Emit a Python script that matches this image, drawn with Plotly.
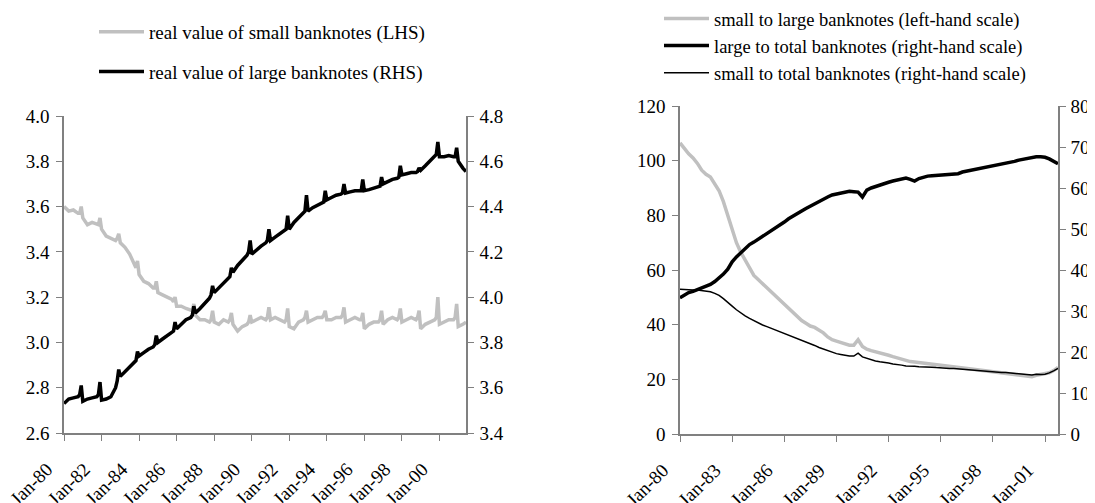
import plotly.graph_objects as go

FONT = "'Liberation Serif', 'Times New Roman', serif"
GREY = "#c0c0c0"
AXIS = "#808080"

# ---------------- Left panel data (sampled months each year) ----------------
left_years = list(range(1980, 2001))
left_months = [1, 4, 7, 10, 11, 12]
left_last_months = [1, 4, 6]  # 2001
left_dates = [f"{y}-{m:02d}-01" for y in left_years for m in left_months] + \
             [f"2001-{m:02d}-01" for m in left_last_months]

# real value of small banknotes (LHS)
small_real_lhs = [
    3.60, 3.58, 3.585, 3.57, 3.57, 3.60,   # 1980
    3.55, 3.52, 3.53, 3.52, 3.52, 3.55,    # 1981
    3.50, 3.47, 3.46, 3.45, 3.46, 3.48,    # 1982
    3.44, 3.42, 3.39, 3.34, 3.33, 3.36,    # 1983
    3.30, 3.27, 3.26, 3.24, 3.24, 3.27,    # 1984
    3.22, 3.21, 3.20, 3.19, 3.18, 3.20,    # 1985
    3.16, 3.16, 3.15, 3.14, 3.14, 3.17,    # 1986
    3.12, 3.10, 3.10, 3.09, 3.10, 3.14,    # 1987
    3.09, 3.08, 3.10, 3.09, 3.10, 3.13,    # 1988
    3.08, 3.05, 3.07, 3.08, 3.09, 3.12,    # 1989
    3.09, 3.10, 3.11, 3.10, 3.11, 3.155,   # 1990
    3.10, 3.11, 3.10, 3.09, 3.10, 3.15,    # 1991
    3.07, 3.06, 3.09, 3.10, 3.11, 3.14,    # 1992
    3.09, 3.10, 3.11, 3.11, 3.12, 3.14,    # 1993
    3.10, 3.10, 3.11, 3.11, 3.12, 3.155,   # 1994
    3.09, 3.10, 3.11, 3.10, 3.10, 3.13,    # 1995
    3.06, 3.08, 3.09, 3.09, 3.10, 3.14,    # 1996
    3.08, 3.10, 3.11, 3.10, 3.11, 3.15,    # 1997
    3.09, 3.10, 3.11, 3.10, 3.11, 3.14,    # 1998
    3.06, 3.08, 3.09, 3.10, 3.11, 3.20,    # 1999
    3.08, 3.09, 3.10, 3.10, 3.11, 3.17,    # 2000
    3.07, 3.08, 3.09,                      # 2001
]

# real value of large banknotes (RHS)
large_real_rhs = [
    3.53, 3.55, 3.555, 3.56, 3.57, 3.61,   # 1980
    3.54, 3.55, 3.555, 3.56, 3.57, 3.625,  # 1981
    3.545, 3.55, 3.56, 3.60, 3.63, 3.68,   # 1982
    3.65, 3.67, 3.69, 3.71, 3.72, 3.76,    # 1983
    3.74, 3.755, 3.77, 3.78, 3.79, 3.83,   # 1984
    3.80, 3.815, 3.83, 3.845, 3.85, 3.89,  # 1985
    3.86, 3.88, 3.90, 3.91, 3.92, 3.96,    # 1986
    3.93, 3.95, 3.97, 3.995, 4.01, 4.05,   # 1987
    4.02, 4.04, 4.06, 4.08, 4.09, 4.13,    # 1988
    4.11, 4.14, 4.16, 4.185, 4.20, 4.25,   # 1989
    4.19, 4.21, 4.225, 4.24, 4.25, 4.30,   # 1990
    4.25, 4.265, 4.28, 4.295, 4.30, 4.36,  # 1991
    4.30, 4.33, 4.35, 4.37, 4.38, 4.45,    # 1992
    4.38, 4.395, 4.405, 4.415, 4.42, 4.47, # 1993
    4.43, 4.44, 4.45, 4.455, 4.46, 4.50,   # 1994
    4.46, 4.465, 4.47, 4.47, 4.47, 4.52,   # 1995
    4.47, 4.475, 4.48, 4.485, 4.49, 4.53,  # 1996
    4.50, 4.51, 4.52, 4.525, 4.53, 4.58,   # 1997
    4.54, 4.545, 4.55, 4.55, 4.555, 4.57,  # 1998
    4.56, 4.58, 4.60, 4.62, 4.63, 4.685,   # 1999
    4.62, 4.62, 4.625, 4.62, 4.62, 4.66,   # 2000
    4.60, 4.57, 4.555,                     # 2001
]

# ---------------- Right panel data (quarterly) ----------------
right_dates = [f"{y}-{m:02d}-01" for y in range(1980, 2002) for m in (1, 4, 7, 10)]

# small to large banknotes (left-hand scale)
small_to_large = [
    106.5, 104.5, 102.5, 101.0,  # 1980
    99.0, 96.5, 95.0, 94.0,      # 1981
    91.5, 89.0, 85.0, 80.0,      # 1982
    74.0, 70.0, 66.5, 63.5,      # 1983
    60.5, 58.0, 56.5, 55.0,      # 1984
    53.5, 52.0, 50.5, 49.0,      # 1985
    47.5, 46.0, 44.5, 43.0,      # 1986
    41.5, 40.5, 39.5, 39.0,      # 1987
    38.0, 37.0, 35.5, 34.5,      # 1988
    34.0, 33.5, 33.0, 32.5,      # 1989
    32.5, 34.5, 32.0, 31.0,      # 1990
    30.5, 30.0, 29.5, 29.0,      # 1991
    28.8, 28.3, 27.8, 27.3,      # 1992
    26.8, 26.5, 26.3, 26.1,      # 1993
    26.0, 25.9, 25.8, 25.6,      # 1994
    25.4, 25.2, 25.0, 24.8,      # 1995
    24.6, 24.4, 24.2, 24.0,      # 1996
    23.8, 23.6, 23.4, 23.2,      # 1997
    23.0, 22.8, 22.6, 22.4,      # 1998
    22.2, 22.0, 21.8, 21.5,      # 1999
    21.2, 21.0, 21.5, 21.8,      # 2000
    22.0, 22.4, 23.2, 24.4,      # 2001
]

# large to total banknotes (right-hand scale)
large_to_total = [
    33.2, 33.8, 34.5, 34.8,  # 1980
    35.2, 35.6, 36.0, 36.5,  # 1981
    37.2, 38.0, 39.0, 40.2,  # 1982
    42.0, 43.2, 44.2, 45.2,  # 1983
    46.2, 46.8, 47.5, 48.2,  # 1984
    48.7, 49.5, 50.3, 51.0,  # 1985
    51.7, 52.5, 53.2, 53.8,  # 1986
    54.4, 55.0, 55.6, 56.0,  # 1987
    56.6, 57.2, 57.8, 58.3,  # 1988
    58.5, 58.8, 59.0, 59.2,  # 1989
    59.1, 59.0, 57.8, 59.5,  # 1990
    60.0, 60.4, 60.7, 61.0,  # 1991
    61.4, 61.7, 62.0, 62.3,  # 1992
    62.4, 62.1, 61.7, 62.3,  # 1993
    62.7, 62.9, 63.0, 63.1,  # 1994
    63.2, 63.2, 63.3, 63.3,  # 1995
    63.5, 63.9, 64.1, 64.3,  # 1996
    64.5, 64.8, 65.0, 65.2,  # 1997
    65.4, 65.6, 65.8, 66.1,  # 1998
    66.3, 66.5, 66.8, 67.0,  # 1999
    67.2, 67.5, 67.6, 67.6,  # 2000
    67.5, 67.1, 66.6, 65.9,  # 2001
]

# small to total banknotes (right-hand scale)
small_to_total = [
    35.3, 35.2, 35.2, 35.1,  # 1980
    35.1, 35.0, 34.9, 34.7,  # 1981
    34.3, 33.8, 33.0, 32.2,  # 1982
    31.2, 30.3, 29.5, 28.8,  # 1983
    28.2, 27.6, 27.1, 26.6,  # 1984
    26.2, 25.8, 25.3, 24.9,  # 1985
    24.5, 24.1, 23.7, 23.3,  # 1986
    22.9, 22.4, 22.0, 21.6,  # 1987
    21.1, 20.7, 20.3, 20.0,  # 1988
    19.6, 19.4, 19.2, 19.0,  # 1989
    19.0, 19.7, 18.8, 18.4,  # 1990
    18.0, 17.8, 17.6, 17.5,  # 1991
    17.3, 17.1, 17.0, 16.8,  # 1992
    16.6, 16.6, 16.5, 16.4,  # 1993
    16.4, 16.3, 16.3, 16.2,  # 1994
    16.1, 16.1, 16.0, 16.0,  # 1995
    15.9, 15.8, 15.7, 15.6,  # 1996
    15.5, 15.5, 15.4, 15.3,  # 1997
    15.2, 15.1, 15.0, 15.0,  # 1998
    14.9, 14.8, 14.7, 14.6,  # 1999
    14.5, 14.4, 14.6, 14.5,  # 2000
    14.6, 14.9, 15.4, 16.0,  # 2001
]

# The page body adds an 8px offset; the figure fills the rest of the window.
OFF = 8
W, H = 1095 - OFF, 503 - OFF

def px(v):
    return (v - OFF) / W

def py(v):
    return 1 - (v - OFF) / H

fig = go.Figure()

fig.add_trace(go.Scatter(x=left_dates, y=small_real_lhs, mode="lines",
                         name="real value of small banknotes (LHS)",
                         line=dict(color=GREY, width=3.5),
                         xaxis="x", yaxis="y", legend="legend", legendgroup="a"))
fig.add_trace(go.Scatter(x=left_dates, y=large_real_rhs, mode="lines",
                         name="real value of large banknotes (RHS)",
                         line=dict(color="black", width=3.5),
                         xaxis="x", yaxis="y2", legend="legend", legendgroup="b"))

fig.add_trace(go.Scatter(x=right_dates, y=small_to_large, mode="lines",
                         name="small to large banknotes (left-hand scale)",
                         line=dict(color=GREY, width=3.5),
                         xaxis="x2", yaxis="y3", legend="legend2"))
fig.add_trace(go.Scatter(x=right_dates, y=large_to_total, mode="lines",
                         name="large to total banknotes (right-hand scale)",
                         line=dict(color="black", width=3.5),
                         xaxis="x2", yaxis="y4", legend="legend2"))
fig.add_trace(go.Scatter(x=right_dates, y=small_to_total, mode="lines",
                         name="small to total banknotes (right-hand scale)",
                         line=dict(color="black", width=1.5),
                         xaxis="x2", yaxis="y4", legend="legend2"))

tickfont = dict(family=FONT, size=19, color="black")

common_x = dict(type="date", tickformat="%b-%y", tickangle=-45, showgrid=False,
                zeroline=False, showline=True, linecolor=AXIS, linewidth=1.5,
                ticks="outside", ticklen=6, tickcolor=AXIS, tickwidth=1.2,
                tickfont=tickfont, tick0="1980-01-01", automargin=False,
                ticklabelstandoff=10, ticklabelshift=-17,
                ticklabeloverflow="allow")
common_y = dict(showgrid=False, zeroline=False, showline=True, linecolor=AXIS,
                linewidth=1.5, ticks="outside", ticklen=6, tickcolor=AXIS,
                tickwidth=1.2, tickfont=tickfont, automargin=False)

fig.update_layout(
    width=W, height=H,
    margin=dict(l=0, r=0, t=0, b=0, autoexpand=False),
    paper_bgcolor="white", plot_bgcolor="rgba(0,0,0,0)",
    font=dict(family=FONT, size=19, color="black"),
    xaxis=dict(domain=[px(64), px(466)], anchor="y", dtick="M24",
               range=["1980-01-01", "2001-06-01"], **common_x),
    yaxis=dict(domain=[py(433), py(116)], anchor="x", range=[2.6, 4.0],
               dtick=0.2, tickformat=".1f", ticklabelstandoff=3, **common_y),
    yaxis2=dict(overlaying="y", side="right", anchor="x", range=[3.4, 4.8],
                dtick=0.2, tickformat=".1f", ticklabelstandoff=2, **common_y),
    xaxis2=dict(domain=[px(680), px(1058)], anchor="y3", dtick="M36",
                range=["1980-01-01", "2001-10-01"], **common_x),
    yaxis3=dict(domain=[py(434), py(106)], anchor="x2", range=[0, 120],
                dtick=20, ticklabelstandoff=3, **common_y),
    yaxis4=dict(overlaying="y3", side="right", anchor="x2", range=[0, 80],
                dtick=10, ticklabelstandoff=1, **common_y),
    legend=dict(x=px(94), y=py(13), xanchor="left", yanchor="top",
                bgcolor="rgba(0,0,0,0)", borderwidth=0, tracegroupgap=12,
                font=dict(family=FONT, size=19, color="black"),
                itemwidth=45, traceorder="grouped"),
    legend2=dict(x=px(659), y=py(0), xanchor="left", yanchor="top",
                 bgcolor="rgba(0,0,0,0)", borderwidth=0, tracegroupgap=0,
                 font=dict(family=FONT, size=18.5, color="black"),
                 itemwidth=45, traceorder="normal"),
    showlegend=True,
)

fig.write_html("out.html")
